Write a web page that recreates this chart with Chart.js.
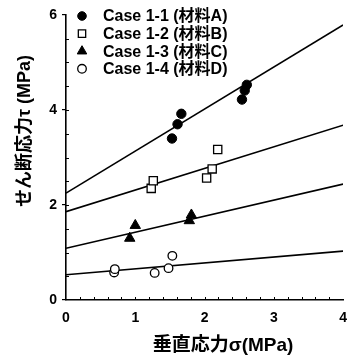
<!DOCTYPE html>
<html>
<head>
<meta charset="utf-8">
<script src="https://cdn.jsdelivr.net/npm/chart.js@4.4.1/dist/chart.umd.min.js"></script>
<style>
  html, body { margin: 0; padding: 0; background: #fff; overflow: hidden; }
  #clip { width: 347px; height: 358px; overflow: hidden; position: relative; }
  #wrap { width: 357px; height: 358px; position: relative; }
</style>
</head>
<body>
<div id="clip"><div id="wrap"><canvas id="shearChart"></canvas></div></div>
<script>
// ---- data ----
const caseLabels = ["Case 1-1 (材料A)", "Case 1-2 (材料B)", "Case 1-3 (材料C)", "Case 1-4 (材料D)"];

const sigmaA = [1.53, 1.61, 1.665, 2.54, 2.58, 2.61];
const tauA   = [3.40, 3.70, 3.92, 4.22, 4.41, 4.53];
const sigmaB = [1.23, 1.26, 2.03, 2.11, 2.19];
const tauB   = [2.35, 2.51, 2.57, 2.76, 3.17];
const sigmaC = [0.92, 1.00, 1.78, 1.81];
const tauC   = [1.30, 1.57, 1.67, 1.79];
const sigmaD = [0.695, 0.705, 1.28, 1.48, 1.535];
const tauD   = [0.58, 0.65, 0.57, 0.67, 0.93];

// fitted lines, read at the two ends of the axis
const lineSigma = [0, 4];
const fitAt0 = [2.25, 1.86, 1.09, 0.53];
const fitAt4 = [5.79, 3.68, 2.44, 1.03];

const xTicks = [0, 1, 2, 3, 4];
const yTicks = [0, 2, 4, 6];

/* ================= HELPERS ================= */
const toPoints = (xs, ys) => xs.map((x, i) => ({ x: x, y: ys[i] }));

const markerStyles = [
  { pointStyle: "circle",   radius: 4.7, fill: "#000", border: 1 },
  { pointStyle: "rect",     radius: 5.8, fill: "#fff", border: 1.3 },
  { pointStyle: "triangle", radius: 6,   fill: "#000", border: 1 },
  { pointStyle: "circle",   radius: 4.3, fill: "#fff", border: 1.3 }
];

const seriesData = [
  toPoints(sigmaA, tauA),
  toPoints(sigmaB, tauB),
  toPoints(sigmaC, tauC),
  toPoints(sigmaD, tauD)
];

const datasets = [];
fitAt0.forEach((b, i) => {
  datasets.push({
    type: "line",
    label: "fit" + i,
    data: [{ x: lineSigma[0], y: b }, { x: lineSigma[1], y: fitAt4[i] }],
    borderColor: "#000",
    borderWidth: 1.6,
    pointRadius: 0,
    fill: false,
    order: 2
  });
});
seriesData.forEach((pts, i) => {
  const m = markerStyles[i];
  datasets.push({
    type: "scatter",
    label: caseLabels[i],
    data: pts,
    pointStyle: m.pointStyle,
    pointRadius: m.radius,
    pointBackgroundColor: m.fill,
    pointBorderColor: "#000",
    pointBorderWidth: m.border,
    order: 1
  });
});

const latinFont = "'Liberation Sans', Arial, 'Noto Sans CJK JP', sans-serif";
const cjkFont = "'Liberation Sans', 'Noto Sans CJK JP', sans-serif";

/* ================= LEGEND + TITLES + MINOR TICKS ================= */
function drawMarker(ctx, style, r, x, y, fill, bw) {
  ctx.save();
  ctx.beginPath();
  if (style === "circle") {
    ctx.arc(x, y, r, 0, Math.PI * 2);
  } else if (style === "rect") {
    const s = r * Math.SQRT1_2;
    ctx.rect(x - s, y - s, 2 * s, 2 * s);
  } else {
    ctx.moveTo(x, y - r);
    ctx.lineTo(x + 0.866 * r, y + 0.5 * r);
    ctx.lineTo(x - 0.866 * r, y + 0.5 * r);
    ctx.closePath();
  }
  ctx.fillStyle = fill;
  ctx.fill();
  ctx.lineWidth = bw;
  ctx.strokeStyle = "#000";
  ctx.stroke();
  ctx.restore();
}

const decorPlugin = {
  id: "decor",
  afterDraw(chart) {
    const ctx = chart.ctx;
    const area = chart.chartArea;
    const xs = chart.scales.x;
    const ys = chart.scales.y;

    // minor ticks, inside the plot
    ctx.save();
    ctx.strokeStyle = "#000";
    ctx.lineWidth = 1;
    for (let v = 0.5; v < 6; v += 0.5) {
      const py = Math.round(ys.getPixelForValue(v)) + 0.5;
      ctx.beginPath();
      ctx.moveTo(area.left, py);
      ctx.lineTo(area.left + 3, py);
      ctx.stroke();
    }
    for (let k = 1; k < 20; k++) {
      const px = Math.round(xs.getPixelForValue(k * 0.2)) + 0.5;
      ctx.beginPath();
      ctx.moveTo(px, area.bottom);
      ctx.lineTo(px, area.bottom - 3);
      ctx.stroke();
    }
    ctx.restore();

    // legend in the top-left corner of the plot
    ctx.save();
    ctx.font = "bold 16px " + cjkFont;
    ctx.textBaseline = "middle";
    ctx.fillStyle = "#000";
    caseLabels.forEach((lab, i) => {
      const m = markerStyles[i];
      const y = area.top + 1 + i * 17.6;
      const r = m.pointStyle === "rect" ? 5.2 : m.pointStyle === "triangle" ? 5.5 : 4.3;
      drawMarker(ctx, m.pointStyle, r, area.left + 16, y, m.fill, m.border);
      ctx.fillText(lab, area.left + 37, y + 1);
    });
    ctx.restore();

    // axis titles
    ctx.save();
    ctx.fillStyle = "#000";
    ctx.font = "bold 19px " + cjkFont;
    ctx.textAlign = "center";
    ctx.textBaseline = "middle";
    ctx.fillText("垂直応力σ(MPa)", 223, 346);
    ctx.translate(25, 131);
    ctx.rotate(-Math.PI / 2);
    ctx.font = "bold 18px " + cjkFont;
    ctx.fillText("せん断応力τ (MPa)", 0, 0);
    ctx.restore();
  }
};

/* ================= CHART ================= */
new Chart(document.getElementById("shearChart"), {
  type: "scatter",
  data: { datasets: datasets },
  plugins: [decorPlugin],
  options: {
    responsive: true,
    maintainAspectRatio: false,
    animation: false,
    layout: { padding: { left: 0, right: 3, top: 15, bottom: 0 } },
    plugins: {
      legend: { display: false },
      tooltip: { enabled: false }
    },
    scales: {
      x: {
        type: "linear",
        min: 0,
        max: 4,
        afterBuildTicks: (scale) => { scale.ticks = xTicks.map(v => ({ value: v })); },
        afterFit: (scale) => { scale.height = 58; },
        grid: { display: true, drawOnChartArea: false, drawTicks: false, color: "#000" },
        border: { display: true, color: "#000", width: 1.6 },
        ticks: {
          color: "#000",
          padding: 10,
          maxRotation: 0,
          font: { family: latinFont, size: 14, weight: "bold" }
        }
      },
      y: {
        type: "linear",
        min: 0,
        max: 6,
        afterBuildTicks: (scale) => { scale.ticks = yTicks.map(v => ({ value: v })); },
        afterFit: (scale) => { scale.width = 66; },
        grid: { display: true, drawOnChartArea: false, drawTicks: true, tickLength: 4, color: "#000", lineWidth: 1.2 },
        border: { display: true, color: "#000", width: 1.6 },
        ticks: {
          color: "#000",
          padding: 5,
          font: { family: latinFont, size: 14, weight: "bold" }
        }
      }
    }
  }
});
</script>
</body>
</html>
